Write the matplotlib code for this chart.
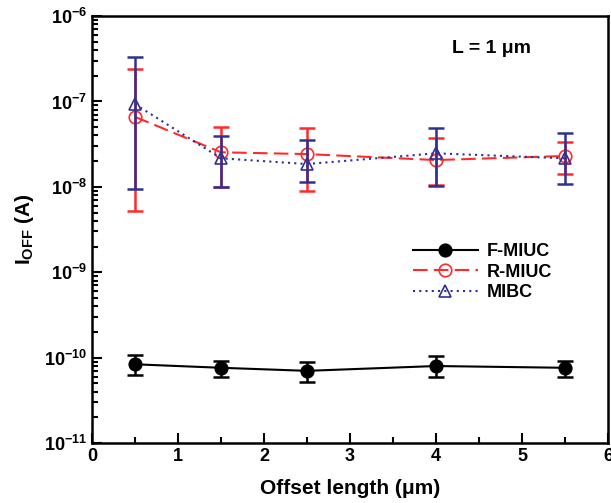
import matplotlib
matplotlib.use("Agg")
import matplotlib.pyplot as plt
from matplotlib.ticker import LogLocator, MultipleLocator, NullFormatter
import numpy as np

plt.rcParams["font.family"] = ["Liberation Sans", "DejaVu Sans"]
plt.rcParams["font.weight"] = "bold"
plt.rcParams["mathtext.fontset"] = "custom"
plt.rcParams["mathtext.rm"] = "Liberation Sans:bold"
plt.rcParams["mathtext.it"] = "Liberation Sans:bold"
plt.rcParams["mathtext.bf"] = "Liberation Sans:bold"

offset = [0.5, 1.5, 2.5, 4.0, 5.5]

f_miuc = [8.35e-11, 7.6e-11, 7.0e-11, 7.97e-11, 7.6e-11]
f_miuc_hi = [1.07e-10, 9.2e-11, 8.8e-11, 1.05e-10, 9.1e-11]
f_miuc_lo = [6.25e-11, 5.97e-11, 5.22e-11, 5.97e-11, 5.93e-11]

r_miuc = [6.6e-8, 2.54e-8, 2.42e-8, 2.06e-8, 2.3e-8]
r_miuc_hi = [2.4e-7, 5.0e-8, 4.9e-8, 3.7e-8, 3.38e-8]
r_miuc_lo = [5.2e-9, 1.0e-8, 8.9e-9, 1.05e-8, 1.4e-8]

mibc = [9.3e-8, 2.16e-8, 1.85e-8, 2.47e-8, 2.16e-8]
mibc_hi = [3.34e-7, 3.94e-8, 3.5e-8, 4.84e-8, 4.23e-8]
mibc_lo = [9.5e-9, 1.0e-8, 1.15e-8, 1.03e-8, 1.08e-8]


def yerr(v, lo, hi):
    v = np.array(v)
    return [v - np.array(lo), np.array(hi) - v]


fig = plt.figure(figsize=(6.11, 5.03), dpi=100)
ax = fig.add_axes([0.1506, 0.1193, 0.8444, 0.8487])

red = "#ff2a2a"
blue = "#2e3192"

series = [
    ("F-MIUC", f_miuc, f_miuc_lo, f_miuc_hi, "black", "-", "o", "black", 3),
    ("R-MIUC", r_miuc, r_miuc_lo, r_miuc_hi, red, (0, (7, 3)), "o", "none", 3),
    ("MIBC", mibc, mibc_lo, mibc_hi, blue, (0, (1, 2)), "^", "none", 4),
]
for label, v, lo, hi, c, ls, mk, mfc, z in series:
    ax.errorbar(offset, v, yerr=yerr(v, lo, hi), fmt="none", ecolor=c,
                elinewidth=1.8, capsize=6, capthick=1.8, zorder=z)
    ax.plot(offset, v, color=c, linestyle=ls, linewidth=1.5, marker=mk,
            markersize=9, markerfacecolor=mfc, markeredgecolor=c,
            markeredgewidth=1.2, label=label, zorder=z)

ax.set_yscale("log")
ax.set_xlim(0, 6)
ax.set_ylim(1e-11, 1e-6)
ax.xaxis.set_major_locator(MultipleLocator(1))
ax.xaxis.set_minor_locator(MultipleLocator(0.5))
ax.yaxis.set_major_locator(LogLocator(base=10, numticks=10))
ax.yaxis.set_minor_locator(LogLocator(base=10, subs=np.arange(2, 10), numticks=20))
ax.yaxis.set_minor_formatter(NullFormatter())

ax.tick_params(which="both", direction="in", top=False, right=False,
               width=1.5, labelsize=13)
ax.tick_params(which="major", length=7)
ax.tick_params(which="minor", length=4)
for s in ax.spines.values():
    s.set_linewidth(1.8)

ax.set_xlabel("Offset length (\u03bcm)", fontsize=15, fontweight="bold", labelpad=10)
ax.set_ylabel(r"$\mathrm{I_{OFF}}$ (A)", fontsize=15, fontweight="bold", labelpad=6)

ax.text(0.775, 0.925, "L = 1 \u03bcm", transform=ax.transAxes, fontsize=14,
        fontweight="bold", ha="center", va="center")

leg = ax.legend(loc="center left", bbox_to_anchor=(0.59, 0.40), frameon=False,
                fontsize=13, handlelength=3.6, labelspacing=0.2, handletextpad=0.5)
for t in leg.get_texts():
    t.set_fontweight("bold")

fig.savefig("out.png", dpi=100)
